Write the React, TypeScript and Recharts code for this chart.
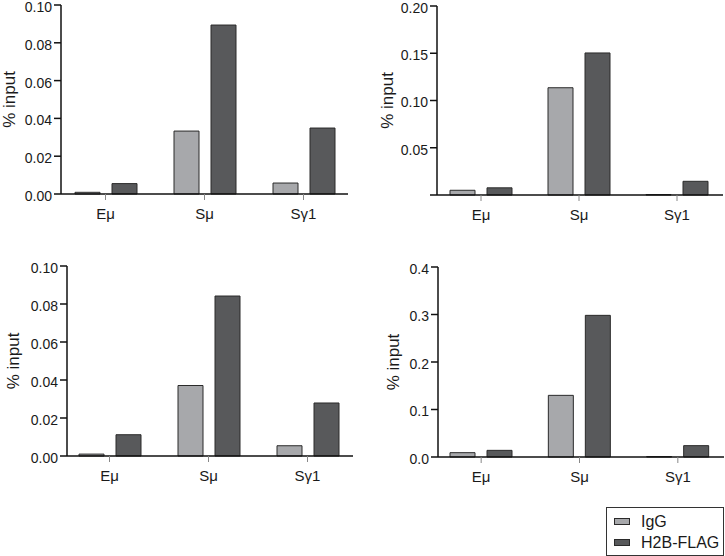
import { BarChart, Bar, XAxis, YAxis } from 'recharts';

const categories = ['Eμ', 'Sμ', 'Sγ1'];
const seriesNames = ['IgG', 'H2B-FLAG'];
const seriesColors = ['#a7a8ab', '#58595b'];

// panel values (% input), read per category
const iggA = [0.0009, 0.0333, 0.0058];
const h2bA = [0.0055, 0.0894, 0.0349];
const iggB = [0.005, 0.1135, 0.0005];
const h2bB = [0.0076, 0.1503, 0.0145];
const iggC = [0.001, 0.0371, 0.0054];
const h2bC = [0.0112, 0.0842, 0.0279];
const iggD = [0.0091, 0.1298, 0.001];
const h2bD = [0.014, 0.2982, 0.0239];

const ticksA = [0, 0.02, 0.04, 0.06, 0.08, 0.1];
const ticksB = [0, 0.05, 0.1, 0.15, 0.2];
const ticksC = [0, 0.02, 0.04, 0.06, 0.08, 0.1];
const ticksD = [0, 0.1, 0.2, 0.3, 0.4];

const font = '"Liberation Sans", Arial, Helvetica, sans-serif';

type PanelProps = {
  left: number;
  top: number;
  width: number;
  margin: { top: number; right: number; bottom: number; left: number };
  yWidth: number;
  pad: { left: number; right: number };
  ticks: number[];
  fmt: (v: number) => string;
  igg: number[];
  h2b: number[];
  labelOffset: number;
};

function Panel({ left, top, width, margin, yWidth, pad, ticks, fmt, igg, h2b, labelOffset }: PanelProps) {
  const data = categories.map((c, i) => ({ cat: c, igg: igg[i], h2b: h2b[i] }));
  const max = ticks[ticks.length - 1];
  return (
    <div style={{ position: 'absolute', left, top }}>
      <BarChart width={width} height={230} data={data} margin={margin} barSize={25} barGap={12}>
        <XAxis
          dataKey="cat"
          height={30}
          padding={pad}
          axisLine={{ stroke: '#111', strokeWidth: 1.5 }}
          tickLine={{ stroke: '#888', strokeWidth: 1 }}
          tickSize={6}
          tickMargin={8}
          tick={{ fill: '#1a1a1a', fontSize: 15, fontFamily: font }}
        />
        <YAxis
          width={yWidth}
          domain={[0, max]}
          ticks={ticks}
          tickFormatter={fmt}
          interval={0}
          axisLine={{ stroke: '#111', strokeWidth: 1.5 }}
          tickLine={{ stroke: '#111', strokeWidth: 1.5 }}
          tickSize={7}
          tickMargin={2}
          tick={{ fill: '#1a1a1a', fontSize: 14, fontFamily: font, dy: 2 }}
          label={{
            value: '% input',
            angle: -90,
            position: 'insideLeft',
            offset: labelOffset,
            style: { textAnchor: 'middle', fill: '#1a1a1a', fontSize: 17, fontFamily: font },
          }}
        />
        <Bar dataKey="igg" name={seriesNames[0]} fill={seriesColors[0]} stroke="#2a2a2a" strokeWidth={1} isAnimationActive={false} />
        <Bar dataKey="h2b" name={seriesNames[1]} fill={seriesColors[1]} stroke="#2a2a2a" strokeWidth={1} isAnimationActive={false} />
      </BarChart>
    </div>
  );
}

const fmt2 = (v: number) => v.toFixed(2);
const fmt2NoZero = (v: number) => (v === 0 ? '' : v.toFixed(2));
const fmt1 = (v: number) => v.toFixed(1);

export default function App() {
  return (
    <div style={{ position: 'absolute', left: 0, top: 0, width: 725, height: 556, background: '#fff', overflow: 'hidden', fontFamily: font }}>
      <Panel
        left={0}
        top={0}
        width={360}
        margin={{ top: 5, right: 12, bottom: 6, left: 0 }}
        yWidth={61}
        pad={{ left: -5, right: -5 }}
        ticks={ticksA}
        fmt={fmt2}
        igg={iggA}
        h2b={h2bA}
        labelOffset={9}
      />
      <Panel
        left={360}
        top={0}
        width={365}
        margin={{ top: 6, right: 2, bottom: 5, left: 0 }}
        yWidth={77}
        pad={{ left: -5, right: -3 }}
        ticks={ticksB}
        fmt={fmt2NoZero}
        igg={iggB}
        h2b={h2bB}
        labelOffset={27}
      />
      <Panel
        left={0}
        top={260}
        width={360}
        margin={{ top: 6, right: 7, bottom: 4, left: 0 }}
        yWidth={67}
        pad={{ left: -7, right: -4 }}
        ticks={ticksC}
        fmt={fmt2}
        igg={iggC}
        h2b={h2bC}
        labelOffset={13}
      />
      <Panel
        left={360}
        top={260}
        width={365}
        margin={{ top: 7, right: 1, bottom: 3, left: 0 }}
        yWidth={78}
        pad={{ left: -6, right: -3 }}
        ticks={ticksD}
        fmt={fmt1}
        igg={iggD}
        h2b={h2bD}
        labelOffset={33}
      />
      <div
        style={{
          position: 'absolute',
          left: 606,
          top: 507,
          width: 118,
          height: 49,
          border: '1px solid #333',
          boxSizing: 'border-box',
          paddingLeft: 7,
          paddingTop: 3,
        }}
      >
        {seriesNames.map((n, i) => (
          <div key={n} style={{ display: 'flex', alignItems: 'center', height: 21, fontSize: 16, color: '#1a1a1a', whiteSpace: 'nowrap' }}>
            <span
              style={{
                display: 'inline-block',
                width: 16,
                height: 7,
                boxSizing: 'border-box',
                background: seriesColors[i],
                border: '1px solid #2a2a2a',
                marginRight: 11,
                flexShrink: 0,
              }}
            />
            {n}
          </div>
        ))}
      </div>
    </div>
  );
}
